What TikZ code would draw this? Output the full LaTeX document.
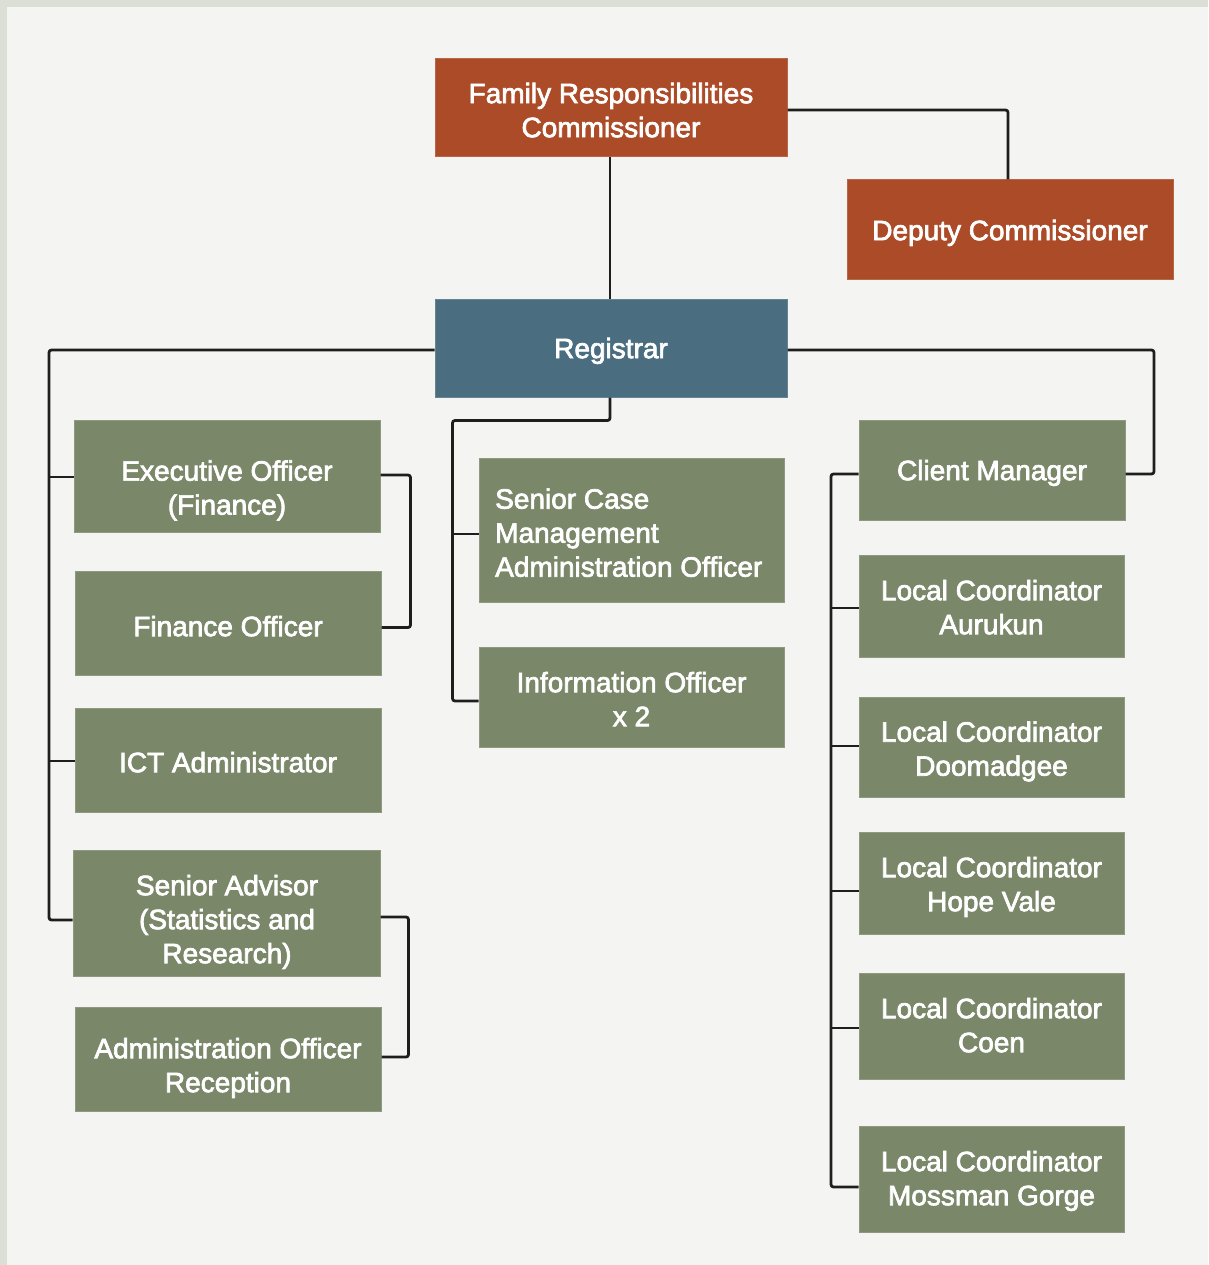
\documentclass[tikz,border=0pt]{standalone}
\usepackage{fontspec}
\newfontfamily\boxfont{Liberation Sans}
\definecolor{bgc}{HTML}{F4F4F2}
\definecolor{edgec}{HTML}{DCDFD6}
\definecolor{orng}{HTML}{AC4B28}
\definecolor{blu}{HTML}{4A6E80}
\definecolor{grn}{HTML}{7A8769}
\definecolor{linec}{HTML}{1E1E1E}
\newcommand\lnst{\rule[-6pt]{0pt}{26pt}}
\newcommand\heavytxt{\special{pdf:literal direct 2 Tr 0.7 w}}
\begin{document}
\begin{tikzpicture}[x=1pt,y=-1pt,
  box/.style={rectangle, inner sep=0pt, line width=1pt},
  obox/.style={box, fill=orng, draw=orng!85!white},
  bbox/.style={box, fill=blu, draw=blu!85!white},
  gbox/.style={box, fill=grn, draw=grn!85!white},
  sz/.style 2 args={minimum width=#1pt, minimum height=#2pt},
  txt/.style={inner sep=0pt, text=white, align=center, font=\boxfont\fontsize{28}{34}\selectfont\heavytxt},
  conn/.style={draw=linec, line width=2.8pt, rounded corners=2.5pt}]
\useasboundingbox (0,0) rectangle (1208,1265);
\fill[edgec] (0,0) rectangle (1208,1265);
\fill[bgc] (7,7) rectangle (1208,1265);

% boxes
\node[obox, sz={352}{98}] (frc) at (611,108) {};
\node[obox, sz={326}{99}] (dep) at (1010,229.5) {};
\node[bbox, sz={352}{98}] (reg) at (611,348) {};

\node[gbox, sz={306}{112}] (exe) at (227,476) {};
\node[gbox, sz={306}{104}] (fin) at (228,623) {};
\node[gbox, sz={306}{104}] (ict) at (228,760) {};
\node[gbox, sz={307}{126}] (sen) at (226.5,913) {};
\node[gbox, sz={306}{104}] (adm) at (228,1059) {};

\node[gbox, sz={305}{144}] (scm) at (631.5,530) {};
\node[gbox, sz={305}{100}] (inf) at (631.5,697) {};

\node[gbox, sz={266}{100}] (cli) at (992,470) {};
\node[gbox, sz={265}{102}] (aur) at (991.5,606) {};
\node[gbox, sz={265}{100}] (doo) at (991.5,747) {};
\node[gbox, sz={265}{102}] (hop) at (991.5,883) {};
\node[gbox, sz={265}{106}] (coe) at (991.5,1026) {};
\node[gbox, sz={265}{106}] (mos) at (991.5,1179) {};

% texts
\node[txt] (frct) at (611,113) {\lnst Family Responsibilities\\\lnst Commissioner};
\node[txt] (dept) at (1010,233) {\lnst Deputy Commissioner};
\node[txt] (regt) at (611,351) {\lnst Registrar};
\node[txt] (exet) at (227,490.5) {\lnst Executive Officer\\\lnst (Finance)};
\node[txt] (fint) at (228,629) {\lnst Finance Officer};
\node[txt] (ictt) at (228,765) {\lnst ICT Administrator};
\node[txt] (sent) at (227,922) {\lnst Senior Advisor\\\lnst (Statistics and\\\lnst Research)};
\node[txt] (admt) at (228,1068) {\lnst Administration Officer\\\lnst Reception};
\node[txt, align=left, anchor=west] (scmt) at (495,535.5) {\lnst Senior Case\\\lnst Management\\\lnst Administration Officer};
\node[txt] (inft) at (631.5,702) {\lnst Information Officer\\\lnst x 2};
\node[txt] (clit) at (992,473) {\lnst Client Manager};
\node[txt] (aurt) at (991.5,610) {\lnst Local Coordinator\\\lnst Aurukun};
\node[txt] (doot) at (991.5,751.5) {\lnst Local Coordinator\\\lnst Doomadgee};
\node[txt] (hopt) at (991.5,887) {\lnst Local Coordinator\\\lnst Hope Vale};
\node[txt] (coet) at (991.5,1028) {\lnst Local Coordinator\\\lnst Coen};
\node[txt] (most) at (991.5,1181) {\lnst Local Coordinator\\\lnst Mossman Gorge};

% bus coordinates
\coordinate (lbus) at (49,350);
\coordinate (mbus) at (452.5,420.5);
\coordinate (rbus) at (831,474);
\coordinate (rtop) at (1154,350);
\coordinate (exeb) at ([yshift=-1pt]exe.west);
\coordinate (ictb) at ([yshift=-1pt]ict.west);
\coordinate (scmb) at ([yshift=-4pt]scm.west);
\coordinate (aurb) at ([yshift=-2pt]aur.west);
\coordinate (doob) at ([yshift=1pt]doo.west);
\coordinate (hopb) at ([yshift=-8pt]hop.west);
\coordinate (coeb) at ([yshift=-2pt]coe.west);

% connectors
\draw[conn] ([yshift=-2pt]frc.east) -| ([xshift=-2pt]dep.north);
\draw[conn] ([xshift=-1pt]frc.south) -- ([xshift=-1pt]reg.north);

\draw[conn] ([yshift=-2pt]reg.west) -- (lbus) |- ([yshift=-7pt]sen.west);
\draw[conn] (exeb) -- (lbus |- exeb);
\draw[conn] (ictb) -- (lbus |- ictb);

\draw[conn] ([yshift=1pt]exe.east) -- ++(30,0) |- ([yshift=-4.5pt]fin.east);
\draw[conn] ([yshift=-4pt]sen.east) -- ++(28,0) |- ([yshift=2pt]adm.east);

\draw[conn] ([xshift=-1pt]reg.south) |- (mbus) |- ([yshift=-4pt]inf.west);
\draw[conn] (scmb) -- (mbus |- scmb);

\draw[conn] ([yshift=-2pt]reg.east) -- (rtop) |- ([yshift=-4pt]cli.east);
\draw[conn] ([yshift=-4pt]cli.west) -- (rbus) |- ([yshift=-8pt]mos.west);
\draw[conn] (aurb) -- (rbus |- aurb);
\draw[conn] (doob) -- (rbus |- doob);
\draw[conn] (hopb) -- (rbus |- hopb);
\draw[conn] (coeb) -- (rbus |- coeb);
\end{tikzpicture}
\end{document}
